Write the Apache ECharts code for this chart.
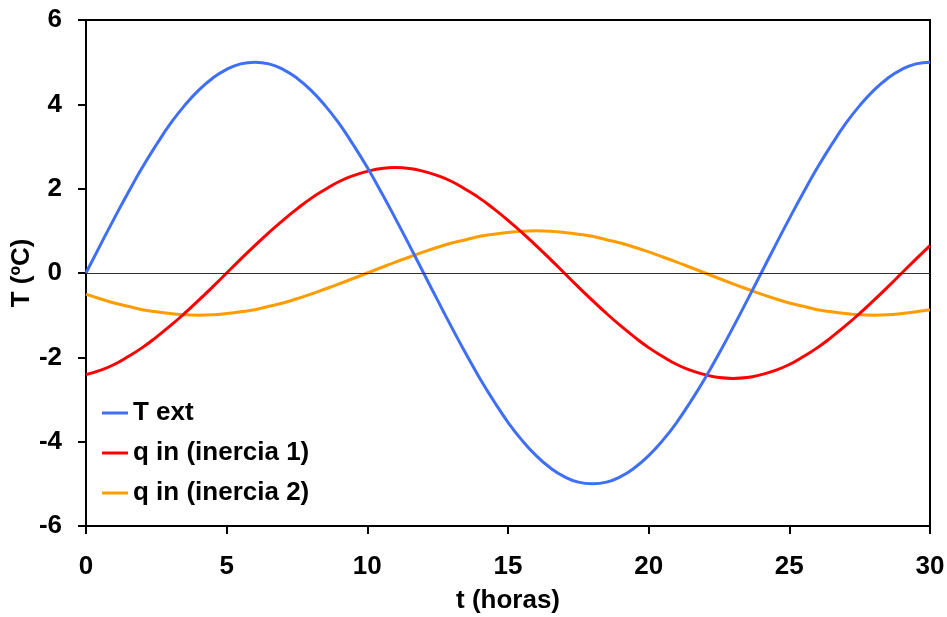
<!DOCTYPE html>
<html>
<head>
<meta charset="utf-8">
<script src="https://cdn.jsdelivr.net/npm/echarts@6/dist/echarts.min.js"></script>
<style>
  html, body { margin: 0; padding: 0; background: #fff; }
  #chart { width: 947px; height: 617px; }
</style>
</head>
<body>
<div id="chart"></div>
<script>
// horas, cada media hora de 0 a 30
var horas = [0, 0.5, 1, 1.5, 2, 2.5, 3, 3.5, 4, 4.5, 5, 5.5, 6, 6.5, 7, 7.5, 8, 8.5, 9, 9.5,
    10, 10.5, 11, 11.5, 12, 12.5, 13, 13.5, 14, 14.5, 15, 15.5, 16, 16.5, 17, 17.5, 18, 18.5,
    19, 19.5, 20, 20.5, 21, 21.5, 22, 22.5, 23, 23.5, 24, 24.5, 25, 25.5, 26, 26.5, 27, 27.5,
    28, 28.5, 29, 29.5, 30];

var tExt = [0, 0.65, 1.29, 1.91, 2.5, 3.04, 3.54, 3.97, 4.33, 4.62, 4.83, 4.96, 5,
    4.96, 4.83, 4.62, 4.33, 3.97, 3.54, 3.04, 2.5, 1.91, 1.29, 0.65, 0,
    -0.65, -1.29, -1.91, -2.5, -3.04, -3.54, -3.97, -4.33, -4.62, -4.83, -4.96, -5,
    -4.96, -4.83, -4.62, -4.33, -3.97, -3.54, -3.04, -2.5, -1.91, -1.29, -0.65, 0,
    0.65, 1.29, 1.91, 2.5, 3.04, 3.54, 3.97, 4.33, 4.62, 4.83, 4.96, 5];

var qIn1 = [-2.41, -2.31, -2.17, -1.98, -1.77, -1.52, -1.25, -0.96, -0.65, -0.33, 0,
    0.33, 0.65, 0.96, 1.25, 1.52, 1.77, 1.98, 2.17, 2.31, 2.41, 2.48, 2.5,
    2.48, 2.41, 2.31, 2.17, 1.98, 1.77, 1.52, 1.25, 0.96, 0.65, 0.33, 0,
    -0.33, -0.65, -0.96, -1.25, -1.52, -1.77, -1.98, -2.17, -2.31, -2.41, -2.48, -2.5,
    -2.48, -2.41, -2.31, -2.17, -1.98, -1.77, -1.52, -1.25, -0.96, -0.65, -0.33, 0,
    0.33, 0.65];

var qIn2 = [-0.5, -0.61, -0.71, -0.79, -0.87, -0.92, -0.96, -0.99, -1,
    -0.99, -0.96, -0.92, -0.87, -0.79, -0.71, -0.61, -0.5, -0.38, -0.26, -0.13, 0,
    0.13, 0.26, 0.38, 0.5, 0.61, 0.71, 0.79, 0.87, 0.92, 0.96, 0.99, 1,
    0.99, 0.96, 0.92, 0.87, 0.79, 0.71, 0.61, 0.5, 0.38, 0.26, 0.13, 0,
    -0.13, -0.26, -0.38, -0.5, -0.61, -0.71, -0.79, -0.87, -0.92, -0.96, -0.99, -1,
    -0.99, -0.96, -0.92, -0.87];

var nombres = ['T ext', 'q in (inercia 1)', 'q in (inercia 2)'];
var colores = ['#3f6ff5', '#ff0000', '#ff9c00'];

var pares = function (ys) {
    var out = [];
    for (var i = 0; i < horas.length; i++) {
        out.push([horas[i], ys[i]]);
    }
    return out;
};

var fuente = 'Liberation Sans, Arial, sans-serif';
var texto = { fontFamily: fuente, fontSize: 26, fontWeight: 'bold', color: '#000' };

var option = {
    animation: false,
    grid: {
        left: 86,
        right: 17,
        top: 20,
        bottom: 91,
        outerBoundsMode: 'none',
        containLabel: false,
        show: true,
        borderColor: '#000',
        borderWidth: 2
    },
    legend: {
        orient: 'vertical',
        left: 102,
        top: 400,
        padding: 0,
        icon: 'rect',
        itemWidth: 26,
        itemHeight: 3,
        itemGap: 14,
        data: nombres,
        textStyle: { fontFamily: fuente, fontSize: 26, fontWeight: 'bold', color: '#000', lineHeight: 26 }
    },
    xAxis: {
        type: 'value',
        min: 0,
        max: 30,
        interval: 5,
        name: 't (horas)',
        nameLocation: 'middle',
        nameGap: 62,
        nameMoveOverlap: false,
        nameTextStyle: texto,
        axisLine: { onZero: false, lineStyle: { color: '#000', width: 2 } },
        axisTick: { inside: false, length: 8, lineStyle: { color: '#000', width: 2 } },
        axisLabel: Object.assign({ margin: 28 }, texto),
        splitLine: { show: false }
    },
    yAxis: {
        type: 'value',
        min: -6,
        max: 6,
        interval: 2,
        name: 'T (ºC)',
        nameLocation: 'middle',
        nameGap: 51,
        nameMoveOverlap: false,
        nameTextStyle: texto,
        axisLine: { lineStyle: { color: '#000', width: 2 } },
        axisTick: { inside: false, length: 8, lineStyle: { color: '#000', width: 2 } },
        axisLabel: Object.assign({ margin: 24 }, texto),
        splitLine: { show: false }
    },
    series: [
        {
            name: nombres[0],
            type: 'line',
            smooth: true,
            symbol: 'none',
            data: pares(tExt),
            lineStyle: { color: colores[0], width: 3 },
            itemStyle: { color: colores[0] },
            z: 3,
            markLine: {
                silent: true,
                symbol: 'none',
                label: { show: false },
                lineStyle: { color: '#333', width: 1, type: 'solid' },
                data: [{ yAxis: 0 }]
            }
        },
        {
            name: nombres[1],
            type: 'line',
            smooth: true,
            symbol: 'none',
            data: pares(qIn1),
            lineStyle: { color: colores[1], width: 3 },
            itemStyle: { color: colores[1] },
            z: 2
        },
        {
            name: nombres[2],
            type: 'line',
            smooth: true,
            symbol: 'none',
            data: pares(qIn2),
            lineStyle: { color: colores[2], width: 3 },
            itemStyle: { color: colores[2] },
            z: 1
        }
    ]
};

var chart = echarts.init(document.getElementById('chart'));
chart.setOption(option);
</script>
</body>
</html>
